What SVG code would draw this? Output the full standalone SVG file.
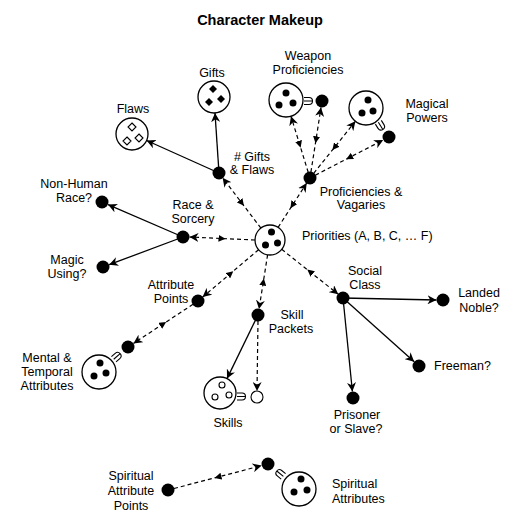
<svg xmlns="http://www.w3.org/2000/svg" xmlns:xlink="http://www.w3.org/1999/xlink" width="520" height="527" viewBox="0 0 520 527">
<style>
text{font-family:"Liberation Sans",Arial,Helvetica,sans-serif;font-size:12.5px;fill:#000}
.c{text-anchor:middle}
.title{font-size:14.5px;font-weight:bold;text-anchor:middle}
.big{fill:#fff;stroke:#000;stroke-width:1.3}
.dot{fill:#000}
.odot{fill:#fff;stroke:#000;stroke-width:1.1}
.solid{fill:none;stroke:#000;stroke-width:1.3;marker-end:url(#arr)}
.dash{fill:none;stroke:#000;stroke-width:1.2;stroke-dasharray:4,3;marker-end:url(#arr);marker-mid:url(#mid)}
.dash1{fill:none;stroke:#000;stroke-width:1.2;stroke-dasharray:4,3;marker-end:url(#arr)}
.conn{fill:none;stroke:#000;stroke-width:1.1}
</style>
<defs>
<marker id="arr" viewBox="0 0 10 10" refX="10" refY="5" markerWidth="9" markerHeight="9" markerUnits="userSpaceOnUse" orient="auto">
<path d="M0,0 L10,5 L0,10 L3,5 z" fill="#000"/>
</marker>
<marker id="mid" viewBox="0 0 10 10" refX="5" refY="5" markerWidth="7" markerHeight="7" markerUnits="userSpaceOnUse" orient="auto">
<path d="M10,0 L0,5 L10,10 z" fill="#000"/>
</marker>
<path id="cn" class="conn" d="M-5,-3.5 H0 A3.5,3.5 0 0 1 0,3.5 H-5 M-5,0 H3.5"/>
</defs>

<text class="title" x="260" y="25">Character Makeup</text>

<g id="connectors">
<path class="dash" d="M255,240 L222,238.5 L189.5,237"/>
<path class="dash" d="M260.9,228.1 L241.8,203 L222.6,177.8"/>
<path class="dash" d="M278.1,227.4 L292.4,205.2 L306.7,183"/>
<path class="dash" d="M258.6,249.7 L230.6,273.4 L202.6,297.1"/>
<path class="dash" d="M267.6,254.8 L263.3,282 L259,309.1"/>
<path class="dash" d="M281.7,249.3 L310,271.8 L338.3,294.3"/>
<path class="dash" d="M308.2,172.3 L299.6,144.3 L291,116.3"/>
<path class="dash" d="M310.9,172.1 L316,139.8 L321,107.4"/>
<path class="dash" d="M313.7,173.3 L334.6,147.3 L355.4,121.3"/>
<path class="dash" d="M315.3,175.2 L349.3,157.6 L383.2,140"/>
<path class="dash" d="M193,304.3 L163.2,323.9 L133.4,343.4"/>
<path class="dash" d="M174,488.5 L217.9,477 L261.7,465.6"/>
<path class="dash1" d="M258,321 L257,391"/>
<path class="solid" d="M183,237 L108,204.6"/>
<path class="solid" d="M183,237 L109.1,264.7"/>
<path class="solid" d="M219,173 L215,113"/>
<path class="solid" d="M219,173 L146.6,140.5"/>
<path class="solid" d="M258,315 L227,378.6"/>
<path class="solid" d="M343,298 L436.5,300"/>
<path class="solid" d="M343,298 L414.2,361.7"/>
<path class="solid" d="M343,298 L352.4,391.5"/>
</g>

<g id="priorities">
<circle class="big" cx="270" cy="240" r="15"/>
<circle class="dot" cx="271.5" cy="232" r="3.5"/>
<circle class="dot" cx="265.5" cy="245" r="3.5"/>
<circle class="dot" cx="277.5" cy="243" r="3.5"/>
<text x="302" y="240">Priorities (A, B, C, … F)</text>
</g>

<g id="gifts">
<circle class="big" cx="214" cy="97" r="16"/>
<path class="dot" d="M213,85 l4,4 l-4,4 l-4,-4 z M209,98 l4,4 l-4,4 l-4,-4 z M221,95 l4,4 l-4,4 l-4,-4 z"/>
<text class="c" x="212" y="77">Gifts</text>
</g>

<g id="flaws">
<circle class="big" cx="132" cy="134" r="16"/>
<path fill="#fff" stroke="#000" stroke-width="1.1" d="M132,123 l4,4 l-4,4 l-4,-4 z M127,137 l4,4 l-4,4 l-4,-4 z M139,134 l4,4 l-4,4 l-4,-4 z"/>
<text class="c" x="133" y="113">Flaws</text>
</g>

<g id="gifts-flaws">
<circle class="dot" cx="219" cy="173" r="6.5"/>
<text class="c" x="252" y="161"># Gifts</text>
<text class="c" x="252" y="174">&amp; Flaws</text>
</g>

<g id="weapon">
<circle class="big" cx="286" cy="100" r="17"/>
<circle class="dot" cx="286" cy="93" r="3.5"/>
<circle class="dot" cx="279" cy="105" r="3.5"/>
<circle class="dot" cx="293" cy="103" r="3.5"/>
<use xlink:href="#cn" transform="translate(309,101)"/>
<circle class="dot" cx="322" cy="101" r="6.5"/>
<text class="c" x="308" y="60">Weapon</text>
<text class="c" x="308" y="74">Proficiencies</text>
</g>

<g id="magical">
<circle class="big" cx="366" cy="108" r="17"/>
<circle class="dot" cx="368" cy="100" r="3.5"/>
<circle class="dot" cx="362" cy="113" r="3.5"/>
<circle class="dot" cx="373" cy="111" r="3.5"/>
<use xlink:href="#cn" transform="translate(381,126.5) rotate(58)"/>
<circle class="dot" cx="389" cy="137" r="6.5"/>
<text class="c" x="427" y="108">Magical</text>
<text class="c" x="427" y="122">Powers</text>
</g>

<g id="prof-vag">
<circle class="dot" cx="310" cy="178" r="6.5"/>
<text class="c" x="361" y="196">Proficiencies &amp;</text>
<text class="c" x="361" y="209">Vagaries</text>
</g>

<g id="race-sorcery">
<circle class="dot" cx="183" cy="237" r="6.5"/>
<text class="c" x="193" y="209">Race &amp;</text>
<text class="c" x="193" y="223">Sorcery</text>
</g>

<g id="non-human">
<circle class="dot" cx="102" cy="202" r="6.5"/>
<text class="c" x="74" y="188">Non-Human</text>
<text class="c" x="74" y="202">Race?</text>
</g>

<g id="magic-using">
<circle class="dot" cx="103" cy="267" r="6.5"/>
<text class="c" x="67" y="264">Magic</text>
<text class="c" x="67" y="278">Using?</text>
</g>

<g id="attribute-points">
<circle class="dot" cx="198" cy="301" r="6.5"/>
<text class="c" x="171" y="289">Attribute</text>
<text class="c" x="171" y="303">Points</text>
</g>

<g id="mental">
<circle class="big" cx="99" cy="372" r="17"/>
<circle class="dot" cx="100" cy="363" r="3.5"/>
<circle class="dot" cx="94" cy="376" r="3.5"/>
<circle class="dot" cx="106" cy="373" r="3.5"/>
<use xlink:href="#cn" transform="translate(117.5,356) rotate(-41)"/>
<circle class="dot" cx="128" cy="347" r="6.5"/>
<text class="c" x="47" y="362">Mental &amp;</text>
<text class="c" x="47" y="376">Temporal</text>
<text class="c" x="47" y="390">Attributes</text>
</g>

<g id="skill-packets">
<circle class="dot" cx="258" cy="315" r="6.5"/>
<text class="c" x="292" y="319">Skill</text>
<text class="c" x="291" y="333">Packets</text>
</g>

<g id="skills">
<circle class="big" cx="220" cy="393" r="16"/>
<circle class="odot" cx="222" cy="385" r="3"/>
<circle class="odot" cx="215" cy="397" r="3"/>
<circle class="odot" cx="229" cy="395" r="3"/>
<use xlink:href="#cn" transform="translate(242,396.5)"/>
<circle class="odot" cx="257" cy="397" r="6"/>
<text class="c" x="228" y="427">Skills</text>
</g>

<g id="social-class">
<circle class="dot" cx="343" cy="298" r="6.5"/>
<text class="c" x="365" y="275">Social</text>
<text class="c" x="365" y="289">Class</text>
</g>

<g id="landed">
<circle class="dot" cx="443" cy="300" r="6.5"/>
<text class="c" x="479" y="297">Landed</text>
<text class="c" x="479" y="312">Noble?</text>
</g>

<g id="freeman">
<circle class="dot" cx="419" cy="366" r="6.5"/>
<text x="434" y="370">Freeman?</text>
</g>

<g id="prisoner">
<circle class="dot" cx="353" cy="398" r="6.5"/>
<text class="c" x="357" y="419">Prisoner</text>
<text class="c" x="356" y="433">or Slave?</text>
</g>

<g id="spiritual-points">
<circle class="dot" cx="168" cy="490" r="6.5"/>
<text class="c" x="131" y="480">Spiritual</text>
<text class="c" x="131" y="495">Attribute</text>
<text class="c" x="131" y="510">Points</text>
</g>

<g id="spiritual">
<circle class="big" cx="299" cy="489" r="17"/>
<circle class="dot" cx="301" cy="479" r="3.5"/>
<circle class="dot" cx="294" cy="492" r="3.5"/>
<circle class="dot" cx="307" cy="490" r="3.5"/>
<use xlink:href="#cn" transform="translate(279.5,473.2) rotate(-141)"/>
<circle class="dot" cx="268" cy="464" r="6.5"/>
<text x="332" y="488">Spiritual</text>
<text x="332" y="503">Attributes</text>
</g>
</svg>
